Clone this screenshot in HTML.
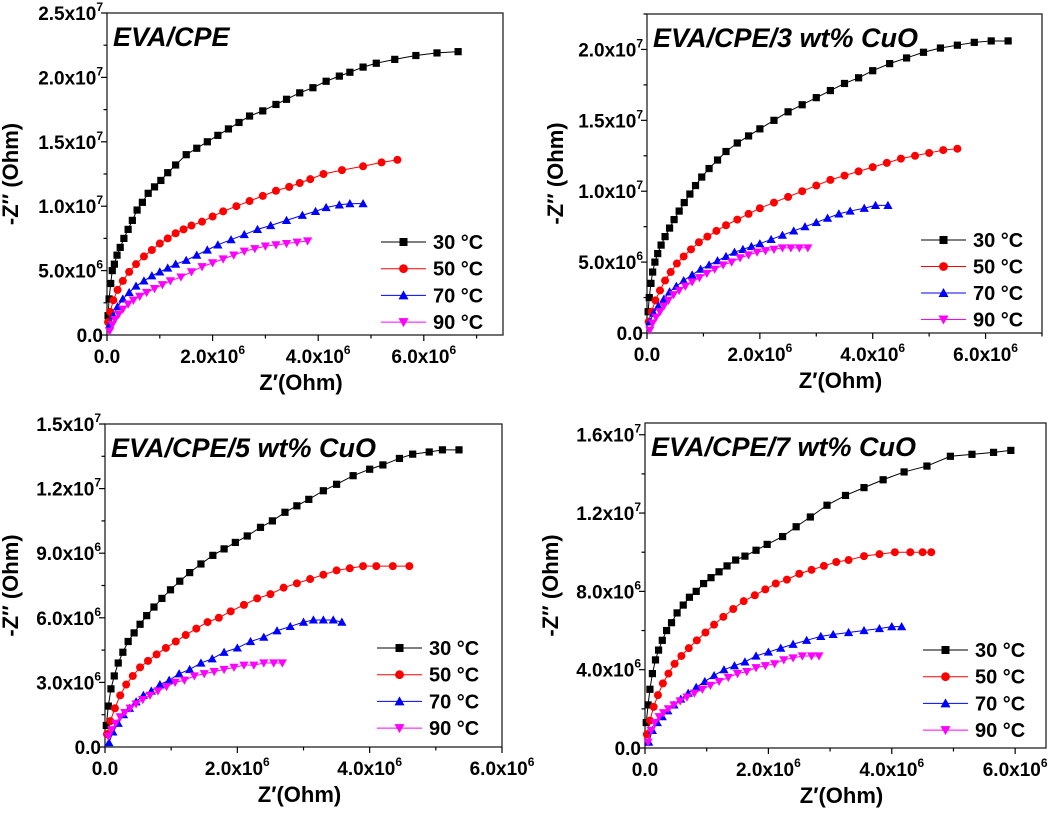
<!DOCTYPE html>
<html><head><meta charset="utf-8">
<style>
html,body{margin:0;padding:0;background:#fff;}
svg{display:block;font-family:"Liberation Sans",Arial,sans-serif;}
</style></head>
<body>
<svg id="fig" width="1059" height="824" viewBox="0 0 1059 824" xmlns="http://www.w3.org/2000/svg"></svg>
<script>
// ---- data (units of 1e6 Ohm) ----
const p1_30_x=[0.02,0.04,0.07,0.1,0.14,0.19,0.25,0.32,0.4,0.48,0.57,0.67,0.78,0.9,1.02,1.15,1.3,1.5,1.7,1.9,2.1,2.3,2.5,2.7,2.95,3.2,3.4,3.65,3.9,4.15,4.4,4.6,4.85,5.1,5.45,5.85,6.25,6.65];
const p1_30_y=[1.5,2.8,4,5,5.5,6.2,6.8,7.5,8.2,8.9,9.7,10.3,11,11.5,12,12.6,13.2,14,14.5,15,15.5,16,16.5,17,17.4,17.9,18.3,18.8,19.2,19.7,20.1,20.4,20.8,21.1,21.4,21.7,21.9,22];
const p1_50_x=[0.02,0.06,0.12,0.2,0.3,0.42,0.55,0.7,0.85,1.0,1.15,1.3,1.45,1.6,1.8,2.0,2.2,2.45,2.7,2.95,3.2,3.45,3.65,3.85,4.1,4.45,4.85,5.2,5.5];
const p1_50_y=[1,1.8,2.7,3.5,4.2,4.9,5.5,6.1,6.6,7.1,7.5,7.9,8.2,8.5,8.8,9.2,9.6,10.0,10.4,10.8,11.2,11.5,11.8,12.1,12.5,12.8,13.1,13.4,13.6];
const p1_70_x=[0.05,0.12,0.2,0.3,0.42,0.55,0.7,0.85,1.0,1.15,1.3,1.5,1.7,1.9,2.1,2.35,2.6,2.85,3.1,3.4,3.7,3.95,4.15,4.4,4.6,4.85];
const p1_70_y=[0.8,1.5,2.2,2.8,3.3,3.8,4.2,4.6,4.9,5.2,5.5,5.8,6.2,6.6,7.0,7.4,7.8,8.2,8.5,8.9,9.3,9.6,9.9,10.1,10.2,10.2];
const p1_90_x=[0.05,0.1,0.15,0.22,0.3,0.4,0.5,0.62,0.75,0.9,1.05,1.2,1.4,1.6,1.8,2.0,2.2,2.4,2.6,2.8,3.0,3.2,3.4,3.6,3.8];
const p1_90_y=[0.3,0.8,1.2,1.6,2.0,2.4,2.7,3.0,3.3,3.6,3.9,4.2,4.5,4.9,5.3,5.6,5.9,6.2,6.5,6.7,6.9,7.0,7.1,7.2,7.3];

const p2_30_x=[0.02,0.04,0.07,0.1,0.14,0.19,0.25,0.32,0.4,0.48,0.57,0.66,0.76,0.86,0.97,1.1,1.25,1.4,1.6,1.8,2.0,2.25,2.5,2.75,3.0,3.25,3.5,3.75,4.0,4.3,4.6,4.9,5.2,5.5,5.8,6.1,6.4];
const p2_30_y=[1.5,2.5,3.5,4.3,5,5.6,6.2,6.8,7.4,8,8.6,9.2,9.8,10.4,11,11.6,12.2,12.8,13.4,13.9,14.4,15,15.6,16.1,16.6,17.1,17.6,18,18.5,19,19.4,19.8,20.1,20.3,20.5,20.6,20.6];
const p2_50_x=[0.03,0.08,0.15,0.23,0.32,0.42,0.53,0.65,0.78,0.92,1.07,1.23,1.4,1.6,1.8,2.0,2.25,2.5,2.75,3.0,3.25,3.5,3.75,4.0,4.25,4.5,4.75,5.0,5.25,5.5];
const p2_50_y=[0.8,1.5,2.3,3.0,3.7,4.3,4.9,5.4,5.9,6.4,6.8,7.2,7.6,8.0,8.4,8.8,9.2,9.6,10.0,10.4,10.8,11.1,11.4,11.7,12.0,12.3,12.5,12.7,12.9,13.0];
const p2_70_x=[0.05,0.12,0.2,0.3,0.4,0.52,0.65,0.8,0.95,1.1,1.25,1.4,1.55,1.7,1.85,2.0,2.2,2.4,2.6,2.8,3.0,3.2,3.4,3.6,3.85,4.05,4.27];
const p2_70_y=[0.8,1.4,1.9,2.4,2.9,3.3,3.7,4.1,4.5,4.8,5.1,5.4,5.7,5.9,6.1,6.3,6.6,6.9,7.2,7.5,7.8,8.1,8.4,8.6,8.8,9.0,9.0];
const p2_90_x=[0.05,0.1,0.16,0.23,0.3,0.38,0.47,0.57,0.68,0.8,0.93,1.06,1.2,1.35,1.5,1.65,1.8,1.95,2.1,2.25,2.4,2.55,2.7,2.85];
const p2_90_y=[0.2,0.7,1.1,1.5,1.9,2.3,2.7,3.0,3.3,3.6,3.9,4.2,4.5,4.8,5.0,5.3,5.5,5.7,5.8,5.9,6.0,6.0,6.0,6.0];

const p3_30_x=[0.02,0.05,0.09,0.14,0.2,0.27,0.35,0.44,0.53,0.63,0.74,0.86,0.99,1.13,1.28,1.45,1.63,1.8,1.97,2.15,2.35,2.53,2.72,2.9,3.08,3.3,3.5,3.75,4.0,4.2,4.45,4.65,4.9,5.1,5.35];
const p3_30_y=[1,1.9,2.7,3.3,3.9,4.4,4.9,5.3,5.7,6.1,6.5,6.9,7.3,7.7,8.1,8.5,8.9,9.2,9.5,9.8,10.2,10.5,10.9,11.2,11.5,11.9,12.2,12.6,12.9,13.1,13.4,13.6,13.7,13.8,13.8];
const p3_50_x=[0.03,0.08,0.15,0.23,0.32,0.42,0.53,0.65,0.78,0.92,1.07,1.22,1.38,1.55,1.72,1.9,2.1,2.3,2.5,2.7,2.9,3.1,3.3,3.5,3.7,3.9,4.1,4.35,4.6];
const p3_50_y=[0.6,1.2,1.8,2.4,2.9,3.3,3.7,4.0,4.3,4.6,4.9,5.2,5.5,5.8,6.0,6.3,6.6,6.9,7.1,7.4,7.6,7.8,8.0,8.2,8.3,8.4,8.4,8.4,8.4];
const p3_70_x=[0.06,0.12,0.2,0.28,0.37,0.47,0.58,0.7,0.83,0.97,1.12,1.28,1.45,1.62,1.8,2.0,2.2,2.4,2.6,2.8,3.0,3.15,3.3,3.45,3.58];
const p3_70_y=[0.2,0.7,1.1,1.5,1.8,2.1,2.4,2.6,2.9,3.1,3.4,3.6,3.9,4.1,4.4,4.6,4.9,5.1,5.4,5.6,5.8,5.9,5.9,5.9,5.8];
const p3_90_x=[0.05,0.1,0.16,0.23,0.3,0.38,0.47,0.57,0.68,0.8,0.93,1.06,1.2,1.35,1.5,1.65,1.8,1.95,2.1,2.25,2.4,2.55,2.68];
const p3_90_y=[0.5,0.8,1.1,1.4,1.6,1.8,2.0,2.2,2.4,2.6,2.8,3.0,3.1,3.3,3.4,3.5,3.6,3.7,3.8,3.8,3.9,3.9,3.9];

const p4_30_x=[0.02,0.05,0.08,0.12,0.17,0.22,0.28,0.35,0.43,0.52,0.62,0.72,0.83,0.95,1.07,1.2,1.33,1.47,1.62,1.8,1.98,2.23,2.45,2.68,2.95,3.25,3.55,3.86,4.2,4.57,4.95,5.3,5.65,5.93];
const p4_30_y=[1.3,2.2,3.0,3.8,4.5,5.0,5.5,6.0,6.4,6.9,7.3,7.7,8.0,8.4,8.7,9.0,9.3,9.6,9.8,10.1,10.4,10.8,11.3,11.8,12.4,12.9,13.3,13.7,14.1,14.4,14.9,15.0,15.1,15.2];
const p4_50_x=[0.03,0.08,0.14,0.21,0.29,0.38,0.48,0.59,0.71,0.84,0.98,1.12,1.27,1.43,1.6,1.78,1.95,2.12,2.3,2.5,2.7,2.9,3.1,3.3,3.55,3.8,4.05,4.3,4.5,4.64];
const p4_50_y=[0.7,1.4,2.1,2.7,3.3,3.8,4.3,4.7,5.1,5.5,5.9,6.3,6.7,7.1,7.5,7.8,8.1,8.4,8.6,8.9,9.1,9.3,9.5,9.6,9.8,9.9,10.0,10.0,10.0,10.0];
const p4_70_x=[0.06,0.12,0.2,0.28,0.37,0.47,0.58,0.7,0.83,0.97,1.12,1.28,1.45,1.62,1.8,2.0,2.2,2.4,2.62,2.85,3.05,3.3,3.55,3.8,4.0,4.16];
const p4_70_y=[0.3,0.9,1.3,1.6,1.9,2.2,2.5,2.8,3.1,3.4,3.7,4.0,4.2,4.4,4.7,4.9,5.1,5.3,5.5,5.7,5.8,5.9,6.0,6.1,6.2,6.2];
const p4_90_x=[0.05,0.1,0.16,0.23,0.3,0.38,0.47,0.57,0.68,0.8,0.93,1.06,1.2,1.35,1.5,1.65,1.8,1.95,2.1,2.25,2.4,2.55,2.7,2.82];
const p4_90_y=[0.3,0.9,1.3,1.6,1.8,2.0,2.2,2.4,2.6,2.8,3.0,3.2,3.4,3.6,3.8,3.9,4.1,4.2,4.3,4.5,4.6,4.7,4.7,4.7];

const legendLabels=["30 °C","50 °C","70 °C","90 °C"];
const xTicks=[0,2,4,6];
const xTickLabels=[["0.0",""],["2.0x10","6"],["4.0x10","6"],["6.0x10","6"]];
const p1_yTicks=[0,5,10,15,20,25];
const p1_yLabels=[["0.0",""],["5.0x10","6"],["1.0x10","7"],["1.5x10","7"],["2.0x10","7"],["2.5x10","7"]];
const p2_yTicks=[0,5,10,15,20];
const p2_yLabels=[["0.0",""],["5.0x10","6"],["1.0x10","7"],["1.5x10","7"],["2.0x10","7"]];
const p3_yTicks=[0,3,6,9,12,15];
const p3_yLabels=[["0.0",""],["3.0x10","6"],["6.0x10","6"],["9.0x10","6"],["1.2x10","7"],["1.5x10","7"]];
const p4_yTicks=[0,4,8,12,16];
const p4_yLabels=[["0.0",""],["4.0x10","6"],["8.0x10","6"],["1.2x10","7"],["1.6x10","7"]];

const NS="http://www.w3.org/2000/svg";
const svg=document.getElementById('fig');
function mk(tag,attrs,parent,text){const e=document.createElementNS(NS,tag);for(const k in attrs)e.setAttribute(k,attrs[k]);if(text!==undefined)e.textContent=text;(parent||svg).appendChild(e);return e;}
const colors=["#000000","#ff0000","#0000ff","#ff00ff"];
const shapes=["square","circle","tri","tridown"];
function marker(g,shape,cx,cy,c,s){
  let e;
  if(shape==="square")e=mk('rect',{x:cx-s,y:cy-s,width:2*s,height:2*s,fill:c},g);
  else if(shape==="circle")e=mk('circle',{cx:cx,cy:cy,r:s+0.4,fill:c},g);
  else if(shape==="tri")e=mk('polygon',{points:`${cx},${cy-s-1} ${cx-s-1},${cy+s} ${cx+s+1},${cy+s}`,fill:c},g);
  else e=mk('polygon',{points:`${cx},${cy+s+1} ${cx-s-1},${cy-s} ${cx+s+1},${cy-s}`,fill:c},g);
  return e;
}
function panel(id,box,xmax,ymax,yTicks,yLabels,yMinor,title,series,leg,ytitleX){
  const g=mk('g',{},svg);
  
  
  const {l,t,r,b}=box;
  const sx=v=>l+v/xmax*(r-l);
  const sy=v=>b-v/ymax*(b-t);
  const frame=mk('rect',{x:l,y:t,width:r-l,height:b-t,fill:'none',stroke:'#222','stroke-width':1.3},g);
  
  
  for(let v=0;v<=xmax+1e-9;v+=1){const x=sx(v);const major=Math.abs(v%2)<1e-9;mk('line',{x1:x,y1:b,x2:x,y2:b+(major?6:3.5),stroke:'#000','stroke-width':1.2},g);}
  xTicks.forEach((v,i)=>{if(v>xmax+1e-9)return;const tx=mk('text',{x:sx(v),y:b+28,'text-anchor':'middle','font-size':19,'font-weight':'bold'},g);
    
    
    const a=document.createElementNS(NS,'tspan');a.textContent=xTickLabels[i][0];tx.appendChild(a);
    if(xTickLabels[i][1]){const s=document.createElementNS(NS,'tspan');s.setAttribute('dy','-9');s.setAttribute('font-size','12');s.textContent=xTickLabels[i][1];tx.appendChild(s);}});
  for(let v=0;v<=ymax+1e-9;v+=yMinor){const y=sy(v);const major=yTicks.some(m=>Math.abs(m-v)<1e-6);mk('line',{x1:l,y1:y,x2:l-(major?6:3.5),y2:y,stroke:'#000','stroke-width':1.2},g);}
  yTicks.forEach((v,i)=>{const tx=mk('text',{x:l-4,y:sy(v)+7,'text-anchor':'end','font-size':19,'font-weight':'bold'},g);
    
    
    const a=document.createElementNS(NS,'tspan');a.textContent=yLabels[i][0];tx.appendChild(a);
    if(yLabels[i][1]){const s=document.createElementNS(NS,'tspan');s.setAttribute('dy','-9');s.setAttribute('font-size','12');s.textContent=yLabels[i][1];tx.appendChild(s);}});
  const xt=mk('text',{x:(l+r)/2-4,y:b+55,'text-anchor':'middle','font-size':22,'font-weight':'bold'},g,"Z′(Ohm)");
  
  
  const yc=(t+b)/2;
  const yt=mk('text',{x:ytitleX,y:yc,'text-anchor':'middle','font-size':22,'font-weight':'bold',transform:`rotate(-90 ${ytitleX} ${yc})`},g,"-Z′′ (Ohm)");
  
  
  const tt=mk('text',{x:l+6,y:t+33,'font-size':27,'font-weight':'bold','font-style':'italic'},g,title);
  
  
  series.forEach((s,i)=>{
    const sg=mk('g',{},g);
    
    
    const pts=s[0].map((x,k)=>sx(x)+','+sy(s[1][k])).join(' ');
    mk('polyline',{points:pts,fill:'none',stroke:colors[i],'stroke-width':1},sg);
    s[0].forEach((x,k)=>{const m=marker(sg,shapes[i],sx(x),sy(s[1][k]),colors[i],3.6);
      
      });
  });
  const lg=mk('g',{},g);
  
  
  legendLabels.forEach((lab,i)=>{
    const y=leg.y+i*leg.dy;
    const eg=mk('g',{},lg);
    
    
    mk('line',{x1:leg.x,y1:y,x2:leg.x+45,y2:y,stroke:colors[i],'stroke-width':1},eg);
    marker(eg,shapes[i],leg.x+22.5,y,colors[i],4);
    mk('text',{x:leg.x+52,y:y+7,'font-size':20,'font-weight':'bold'},eg,lab);
  });
}
panel('panel-eva-cpe',{l:107,t:13,r:503,b:335},7.5,25,p1_yTicks,p1_yLabels,2.5,"EVA/CPE",
  [[p1_30_x,p1_30_y],[p1_50_x,p1_50_y],[p1_70_x,p1_70_y],[p1_90_x,p1_90_y]],{x:381,y:242,dy:26.7},18);
panel('panel-3wt-cuo',{l:647,t:14,r:1042,b:333},7.0,22.5,p2_yTicks,p2_yLabels,2.5,"EVA/CPE/3 wt% CuO",
  [[p2_30_x,p2_30_y],[p2_50_x,p2_50_y],[p2_70_x,p2_70_y],[p2_90_x,p2_90_y]],{x:921,y:240,dy:26.5},563);
panel('panel-5wt-cuo',{l:105,t:424,r:502,b:747},6.0,15,p3_yTicks,p3_yLabels,1.5,"EVA/CPE/5 wt% CuO",
  [[p3_30_x,p3_30_y],[p3_50_x,p3_50_y],[p3_70_x,p3_70_y],[p3_90_x,p3_90_y]],{x:377,y:648,dy:26.7},18);
panel('panel-7wt-cuo',{l:645,t:423,r:1046,b:748},6.5,16.6,p4_yTicks,p4_yLabels,2,"EVA/CPE/7 wt% CuO",
  [[p4_30_x,p4_30_y],[p4_50_x,p4_50_y],[p4_70_x,p4_70_y],[p4_90_x,p4_90_y]],{x:923,y:650,dy:26.7},558);
</script>
</body></html>
